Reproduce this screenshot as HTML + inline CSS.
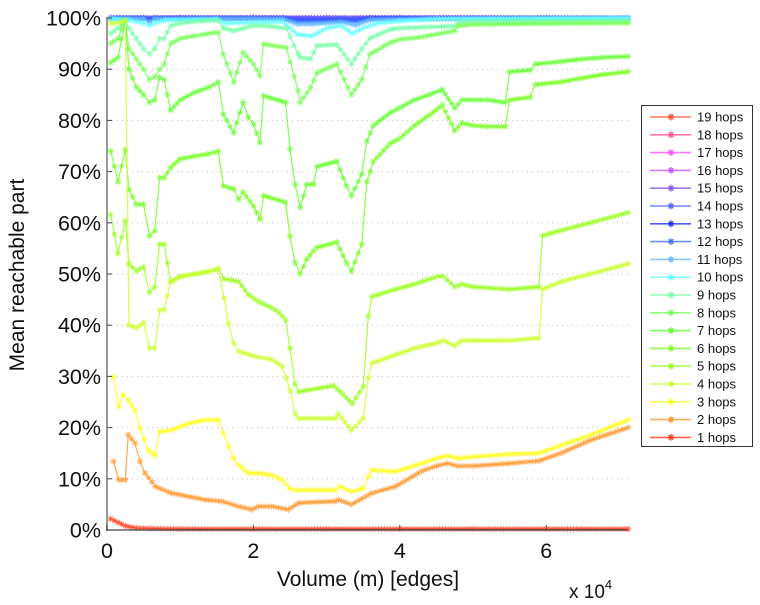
<!DOCTYPE html>
<html><head><meta charset="utf-8">
<style>
html,body{margin:0;padding:0;background:#fff;}
body{width:760px;height:600px;overflow:hidden;font-family:"Liberation Sans",Arial,sans-serif;}
svg text{font-family:"Liberation Sans",Arial,sans-serif;}
</style></head>
<body>
<svg id="chart" width="760" height="600" viewBox="0 0 760 600" xmlns="http://www.w3.org/2000/svg">
  <g id="grid"></g>
  <g id="series"></g>
  <g id="axes"></g>
  <g id="legend"></g>
  <text x="368" y="586" font-size="21" text-anchor="middle" fill="#111">Volume (m) [edges]</text>
  <text x="569" y="598" font-size="19" fill="#111">x 10<tspan font-size="13" dy="-9">4</tspan></text>
  <text transform="translate(24,275) rotate(-90)" font-size="21" text-anchor="middle" fill="#111">Mean reachable part</text>
</svg>
<script>
// ---- data (x in units of 1e4 edges, y in percent) ----
const yTicks = [0,10,20,30,40,50,60,70,80,90,100];
const xTicks = [0,2,4,6];
const hopLabels = ["1 hops","2 hops","3 hops","4 hops","5 hops","6 hops","7 hops","8 hops","9 hops","10 hops","11 hops","12 hops","13 hops","14 hops","15 hops","16 hops","17 hops","18 hops","19 hops"];

const x1 = [0.05,0.15,0.25,0.4,0.6,1,2,3,4,5,6,7.12];
const y1 = [2.2,1.5,0.8,0.4,0.3,0.2,0.2,0.2,0.2,0.2,0.2,0.2];

const x2 = [0.09,0.16,0.25,0.29,0.38,0.45,0.52,0.66,0.88,1.34,1.57,1.8,1.98,2.07,2.25,2.48,2.62,3.12,3.16,3.34,3.62,3.94,4.3,4.5,4.65,4.8,5.0,5.5,5.9,6.2,6.6,7.12];
const y2 = [13.4,9.8,9.8,18.6,17,13.4,11.1,8.5,7.2,5.9,5.6,4.6,4.0,4.6,4.6,4.0,5.3,5.6,5.9,5.0,7.2,8.5,11.5,12.5,13,12.5,12.5,13,13.5,15,17.5,20];

const x3 = [0.09,0.16,0.22,0.29,0.38,0.45,0.56,0.66,0.72,0.88,1.11,1.34,1.52,1.59,1.66,1.73,1.8,1.93,2.07,2.25,2.39,2.5,2.57,3.12,3.18,3.34,3.5,3.57,3.62,3.94,4.3,4.5,4.65,4.8,5.0,5.5,5.9,6.2,6.6,7.12];
const y3 = [29.9,24.1,26.4,25.4,23.4,19.9,15.6,14.6,19.2,19.5,20.8,21.5,21.5,18.9,16.3,14,12.7,11.1,11.1,10.7,9.8,8.1,7.8,7.8,8.5,7.5,8.1,10.4,11.7,11.4,13,14,14.5,14,14.3,14.8,15,16.5,18.5,21.5];

const x4 = [0.05,0.15,0.25,0.3,0.4,0.5,0.58,0.65,0.72,0.78,0.87,1.0,1.2,1.4,1.52,1.6,1.66,1.73,1.8,2.02,2.25,2.39,2.45,2.5,2.57,2.62,3.12,3.16,3.34,3.5,3.57,3.62,3.94,4.2,4.5,4.6,4.75,4.85,5.0,5.5,5.9,5.95,6.2,6.6,7.12];
const y4 = [99,99,99.5,40,39.5,40.5,35.5,35.5,43,43,48.5,49.5,50,50.5,51,45.3,40.3,36.5,34.9,33.9,33.3,32,29.7,27.2,22.7,21.8,21.8,22.7,19.5,21.8,29.7,32.6,34.2,35.5,36.5,37,36,37,37,37,37.5,47,48.5,50,52];

const x5 = [0.05,0.15,0.25,0.3,0.4,0.5,0.58,0.65,0.72,0.78,0.87,1.0,1.2,1.4,1.52,1.6,1.7,1.8,1.93,2.07,2.25,2.35,2.44,2.5,2.57,2.62,3.1,3.35,3.5,3.57,3.62,3.94,4.2,4.5,4.6,4.75,4.85,5.0,5.5,5.9,5.95,6.2,6.6,7.12];
const y5 = [61.6,54,60.4,52,50.6,51.3,46.4,47.4,55.8,55.8,48.5,49.5,50,50.5,51,49,48.8,48.5,46,44.6,43.4,42.5,41,35.5,28.5,27,28.2,24.7,28,41.8,45.6,47,48,49.5,49.5,47.5,48,47.5,47,47.5,57.5,58.5,60,62];

const x6 = [0.05,0.15,0.25,0.3,0.4,0.5,0.58,0.65,0.72,0.78,0.87,1.0,1.2,1.4,1.52,1.59,1.73,1.8,1.86,2.0,2.09,2.14,2.44,2.5,2.57,2.64,2.73,2.82,2.87,3.14,3.27,3.34,3.48,3.55,3.64,3.87,4.0,4.2,4.4,4.58,4.75,4.85,5.0,5.2,5.44,5.5,5.78,5.85,6.2,6.5,6.8,7.12];
const y6 = [74,68,74.3,66.5,63.6,63.6,57.4,58.4,68.8,68.8,70.8,72.5,73,73.5,74,67.2,66.6,64.6,66,63.3,60.7,65.3,64,57.4,52.2,50,52.9,54.5,55.2,56.2,52.2,50.6,55.8,68,72,75.5,76.5,79,81,83,78,79.5,79,78.8,78.8,84,84.5,87,87.5,88.3,89,89.5];

const x7 = [0.05,0.15,0.25,0.3,0.4,0.5,0.58,0.65,0.72,0.78,0.87,1.0,1.2,1.4,1.52,1.59,1.73,1.86,1.93,2.0,2.09,2.14,2.44,2.5,2.57,2.64,2.73,2.82,2.87,3.14,3.27,3.34,3.48,3.55,3.64,3.87,4.0,4.2,4.4,4.58,4.75,4.85,5.0,5.2,5.44,5.5,5.78,5.85,6.2,6.5,6.8,7.12];
const y7 = [91.3,92.3,99.5,90,86.5,85,83.5,84,88.4,88,82,84,85.5,86.5,87.5,81.2,77.6,83.5,80.6,79.3,75.7,84.8,83.5,74.4,67.5,63,67.5,67.5,71,72,67.2,65.3,69.5,76,79,81.5,82.5,84,85,86,82.4,84,84,84,83.5,89.5,89.8,91,91.5,92,92.3,92.5];

const x8 = [0.05,0.15,0.25,0.3,0.4,0.5,0.58,0.65,0.72,0.78,0.87,1.0,1.2,1.4,1.52,1.59,1.73,1.86,2.0,2.09,2.14,2.45,2.61,2.64,2.78,2.87,3.14,3.34,3.48,3.59,3.87,4.0,4.3,4.75,4.8,5.0,6.0,7.12];
const y8 = [95,96,99.5,94,92,90,88,88.5,90,91,95,96,96.5,97,97.2,92.9,87.4,93.3,91,88.7,94.9,94.2,85.8,83.5,86.4,89.3,91,85,88,92.9,95.2,95.8,96.3,97.5,98.5,98.7,98.9,99];

const x9 = [0.05,0.15,0.25,0.3,0.4,0.5,0.58,0.65,0.72,0.78,0.87,1.0,1.2,1.4,1.52,1.59,1.73,1.86,2.0,2.14,2.45,2.61,2.64,2.78,2.87,3.14,3.34,3.48,3.59,3.87,4.0,4.3,4.75,4.8,5.0,7.12];
const y9 = [97,98,99.5,98,96,94,93,94,96,96,98.5,99,99.3,99.5,99.5,98,97.5,98,98.5,98.5,98,93,92.3,92,94.6,94.8,91,94,96,97.8,98,98.2,98.4,99.2,99.3,99.5];

const x10 = [0.05,0.3,0.5,0.58,0.65,0.8,1.5,1.6,2.4,2.6,2.8,3.0,3.2,3.35,3.5,3.7,4.0,4.5,7.12];
const y10 = [99.8,99.6,99,98.5,99,99.6,99.8,99,99.3,96.8,96.5,98,98.5,97,98,99,99.4,99.8,100];

const x11 = [0.05,0.5,0.58,0.65,2.4,2.6,2.8,3.2,3.4,3.6,4.5,7.12];
const y11 = [100,99.8,99.2,99.8,99.8,98.8,98.8,99.2,98.6,99.6,99.9,100];

const x12 = [0.05,0.5,0.58,0.65,2.4,2.6,2.8,3.2,3.4,3.6,7.12];
const y12 = [100,100,99.5,100,100,99.3,99.3,99.5,99.3,99.9,100];

const x13 = [0.05,0.5,0.58,0.65,2.4,2.6,2.8,3.2,3.4,3.6,7.12];
const y13 = [100,100,99.6,100,100,99.5,99.5,99.6,99.5,100,100];

const xFlat = [0.05,1.0,2.0,3.0,4.0,5.0,6.0,7.12];
const yFlat = [100,100,100,100,100,100,100,100];

// ---- layout ----
const X0 = 107, XS = 73.2, Y0 = 530, YS = 5.12;
function sx(v){ return X0 + v*XS; }
function sy(p){ return Y0 - p*YS; }

const colors = ["#ff4020","#ff9a30","#ffff20","#ccff30","#99ff22","#77ff22","#66ff33","#77ff55","#77ffaa","#66ffff","#66bbff","#4477ff","#2233ff","#5566ff","#8855ff","#cc55ff","#ff55ff","#ff5599","#ff5533"];
const seriesX = [x1,x2,x3,x4,x5,x6,x7,x8,x9,x10,x11,x12,x13,xFlat,xFlat,xFlat,xFlat,xFlat,xFlat];
const seriesY = [y1,y2,y3,y4,y5,y6,y7,y8,y9,y10,y11,y12,y13,yFlat,yFlat,yFlat,yFlat,yFlat,yFlat];

const NS = "http://www.w3.org/2000/svg";
function mk(tag, attrs, parent){
  const e = document.createElementNS(NS, tag);
  for (const k in attrs) e.setAttribute(k, attrs[k]);
  parent.appendChild(e);
  return e;
}
function starPath(cx, cy, r){
  const a = r*0.7;
  return `M${(cx-r).toFixed(1)},${cy.toFixed(1)}H${(cx+r).toFixed(1)}M${cx.toFixed(1)},${(cy-r).toFixed(1)}V${(cy+r).toFixed(1)}M${(cx-a).toFixed(1)},${(cy-a).toFixed(1)}L${(cx+a).toFixed(1)},${(cy+a).toFixed(1)}M${(cx-a).toFixed(1)},${(cy+a).toFixed(1)}L${(cx+a).toFixed(1)},${(cy-a).toFixed(1)}`;
}

// gridlines
const grid = document.getElementById("grid");
yTicks.forEach(t => {
  if (t === 0) return;
  const l = mk("line", {x1:X0, x2:628, y1:sy(t), y2:sy(t), stroke:"#bbbbbb", "stroke-width":1, "stroke-dasharray":"1,4"}, grid);
  
  
});

// series (high hops first so low hops are on top)
const sg = document.getElementById("series");
for (let s = seriesX.length - 1; s >= 0; s--) {
  const g = mk("g", {}, sg);
  
  
  const xs = seriesX[s], ys = seriesY[s];
  const pts = xs.map((v,i) => sx(v).toFixed(1) + "," + sy(ys[i]).toFixed(1)).join(" ");
  const pl = mk("polyline", {points:pts, fill:"none", stroke:colors[s], "stroke-width":1.3, "stroke-opacity":0.8}, g);
  
  
  // dense asterisk markers along the line (one path per series)
  let d = "";
  for (let i = 0; i < xs.length; i++) {
    const px = sx(xs[i]), py = sy(ys[i]);
    d += starPath(px, py, 3.2);
    if (i < xs.length - 1) {
      const qx = sx(xs[i+1]), qy = sy(ys[i+1]);
      const n = Math.floor(Math.abs(qx - px) / 3);
      for (let k = 1; k < n; k++) {
        const t = k / n;
        d += starPath(px + (qx-px)*t, py + (qy-py)*t, 2.8);
      }
    }
  }
  const mp = mk("path", {d:d, stroke:colors[s], "stroke-width":1, "stroke-opacity":0.75, fill:"none"}, g);
  
  
}

// axes
const ax = document.getElementById("axes");
const yl = mk("line", {x1:X0, x2:X0, y1:17, y2:Y0+1, stroke:"#999", "stroke-width":2}, ax);


const xl = mk("line", {x1:X0-1, x2:628, y1:Y0, y2:Y0, stroke:"#444", "stroke-width":1.2}, ax);


yTicks.forEach(t => {
  mk("line", {x1:X0, x2:X0+5, y1:sy(t), y2:sy(t), stroke:"#444", "stroke-width":1}, ax);
  const tx = mk("text", {x:101, y:sy(t)+7.5, "font-size":21.5, "text-anchor":"end", fill:"#111"}, ax);
  tx.textContent = t + "%";
  
  
});
xTicks.forEach(t => {
  mk("line", {x1:sx(t), x2:sx(t), y1:Y0, y2:Y0-5, stroke:"#444", "stroke-width":1}, ax);
  const tx = mk("text", {x:sx(t), y:558, "font-size":21.5, "text-anchor":"middle", fill:"#111"}, ax);
  tx.textContent = t;
  
  
});

// legend
const lg = document.getElementById("legend");
const lb = mk("rect", {x:641.5, y:105.5, width:111, height:341, fill:"#fff", stroke:"#333", "stroke-width":1}, lg);


for (let r = 0; r < 19; r++) {
  const s = 18 - r;
  const cy = 117 + r * 17.8;
  const e = mk("g", {}, lg);
  
  
  mk("line", {x1:650, x2:691, y1:cy, y2:cy, stroke:colors[s], "stroke-width":1.6, "stroke-opacity":0.8}, e);
  mk("path", {d:starPath(671, cy, 3.4), stroke:colors[s], "stroke-width":1.2, fill:"none"}, e);
  const tx = mk("text", {x:697, y:cy+4.5, "font-size":13, fill:"#111"}, e);
  tx.textContent = hopLabels[s];
}
</script>
</body></html>
